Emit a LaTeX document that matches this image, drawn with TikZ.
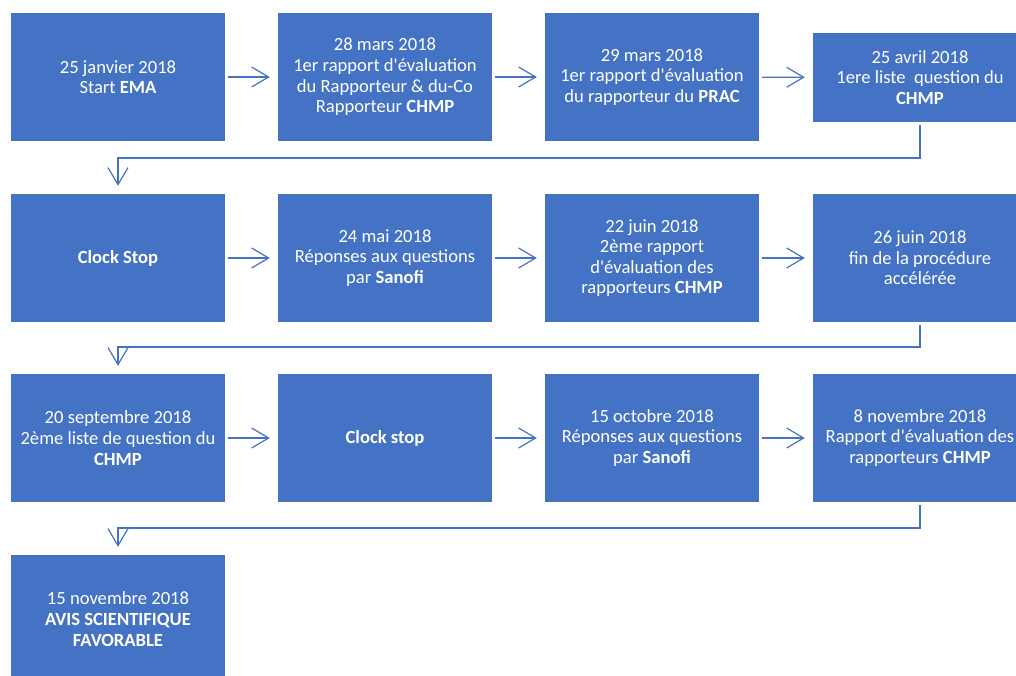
\documentclass[tikz,border=0pt]{standalone}
\usepackage{fontspec}
\setmainfont{Carlito}
\usetikzlibrary{arrows.meta}
\definecolor{stepblue}{HTML}{4472C4}
\newcommand{\apos}{\textquotesingle}
\begin{document}
\begin{tikzpicture}[
		x=1pt, y=-1pt,
		stage/.style={fill=stepblue, text=white, minimum width=214pt, minimum height=128pt, inner sep=0, align=center, font=\fontsize{18.6}{20.6}\selectfont},
		flow/.style={draw=stepblue, line width=1.2pt, -{Straight Barb[length=17pt,width=20pt]}, shorten <=3pt, shorten >=8pt},
	]
	\useasboundingbox (0,0) rectangle (1016,675);
	% first row
	\node[stage] (jan) at (118,77) {25 janvier 2018\\Start \textbf{EMA}};
	\node[stage] (mars28) at (385,77) {28 mars 2018\\1er rapport d\apos évaluation\\du Rapporteur \& du-Co\\Rapporteur \textbf{CHMP}};
	\node[stage] (mars29) at (652,77) {29 mars 2018\\1er rapport d\apos évaluation\\du rapporteur du \textbf{PRAC}};
	\node[stage, minimum height=89pt] (avril) at (920,77.5) {25 avril 2018\\1ere liste\ \ question du\\\textbf{CHMP}};
	% second row
	\node[stage] (stop1) at (118,258) {\textbf{Clock Stop}};
	\node[stage] (mai) at (385,258) {24 mai 2018\\Réponses aux questions\\par \textbf{Sanofi}};
	\node[stage] (juin22) at (652,258) {22 juin 2018\\2ème rapport\\d\apos évaluation des\\rapporteurs \textbf{CHMP}};
	\node[stage] (juin26) at (920,258) {26 juin 2018\\fin de la procédure\\accélérée};
	% third row
	\node[stage] (sept) at (118,438) {20 septembre 2018\\2ème liste de question du\\\textbf{CHMP}};
	\node[stage] (stop2) at (385,438) {\textbf{Clock stop}};
	\node[stage] (oct) at (652,438) {15 octobre 2018\\Réponses aux questions\\par \textbf{Sanofi}};
	\node[stage] (nov8) at (920,438) {8 novembre 2018\\Rapport d\apos évaluation des\\rapporteurs \textbf{CHMP}};
	% last row
	\node[stage] (nov15) at (118,619) {15 novembre 2018\\\textbf{AVIS SCIENTIFIQUE}\\\textbf{FAVORABLE}};

	\coordinate (turn1) at (0,158);
	\coordinate (turn2) at (0,347);
	\coordinate (turn3) at (0,528);

	\draw[flow] (jan) -- (mars28);
	\draw[flow] (mars28) -- (mars29);
	\draw[flow] (mars29) -- (avril);
	\draw[flow] (avril.south) -- (avril.south |- turn1) -| (stop1.north);
	\draw[flow] (stop1) -- (mai);
	\draw[flow] (mai) -- (juin22);
	\draw[flow] (juin22) -- (juin26);
	\draw[flow] (juin26.south) -- (juin26.south |- turn2) -| (sept.north);
	\draw[flow] (sept) -- (stop2);
	\draw[flow] (stop2) -- (oct);
	\draw[flow] (oct) -- (nov8);
	\draw[flow] (nov8.south) -- (nov8.south |- turn3) -| (nov15.north);
\end{tikzpicture}
\end{document}
